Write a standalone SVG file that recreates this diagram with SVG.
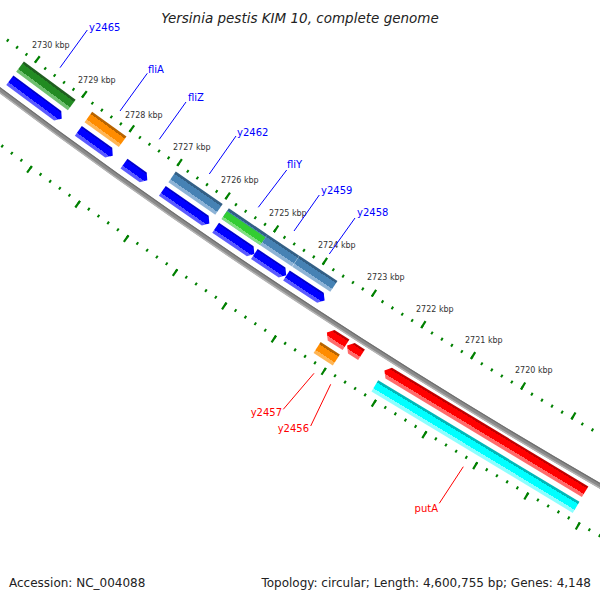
<svg xmlns="http://www.w3.org/2000/svg" width="600" height="600" viewBox="0 0 600 600">
<style>
.kbp{font-family:"DejaVu Sans",sans-serif;font-size:8px;fill:#333}
.lb{font-family:"DejaVu Sans",sans-serif;font-size:10px;fill:#0000ff}
.lr{font-family:"DejaVu Sans",sans-serif;font-size:10px;fill:#ff0000;text-anchor:end}
.info{font-family:"DejaVu Sans",sans-serif;font-size:12px;fill:#222}
.cb{stroke:#0000ff;stroke-width:1;fill:none}
.cr{stroke:#ff0000;stroke-width:1;fill:none}
.tick{fill:none;stroke:#008000}
.bb{fill:none}
.blue{fill:url(#gBlue)}
.red{fill:url(#gRed)}
.green{fill:url(#gGreen)}
.orange{fill:url(#gOrange)}
.steel{fill:url(#gSteel)}
.lime{fill:url(#gLime)}
.cyan{fill:url(#gCyan)}
</style>
<defs>
<linearGradient id="gBlue" x1="0" y1="0" x2="0" y2="1"><stop offset="0" stop-color="#0000cc"/><stop offset="0.15" stop-color="#0000cc"/><stop offset="0.15" stop-color="#0000ff"/><stop offset="0.7" stop-color="#0000ff"/><stop offset="0.7" stop-color="#5a5aff"/><stop offset="1" stop-color="#5a5aff"/></linearGradient>
<linearGradient id="gRed" x1="0" y1="0" x2="0" y2="1"><stop offset="0" stop-color="#c00000"/><stop offset="0.18" stop-color="#c00000"/><stop offset="0.18" stop-color="#ff0000"/><stop offset="0.7" stop-color="#ff0000"/><stop offset="0.7" stop-color="#ff6b6b"/><stop offset="1" stop-color="#ff6b6b"/></linearGradient>
<linearGradient id="gGreen" x1="0" y1="0" x2="0" y2="1"><stop offset="0" stop-color="#1f5f1f"/><stop offset="0.2" stop-color="#1f5f1f"/><stop offset="0.2" stop-color="#228b22"/><stop offset="0.72" stop-color="#228b22"/><stop offset="0.72" stop-color="#6fbf6f"/><stop offset="1" stop-color="#6fbf6f"/></linearGradient>
<linearGradient id="gOrange" x1="0" y1="0" x2="0" y2="1"><stop offset="0" stop-color="#b86400"/><stop offset="0.2" stop-color="#b86400"/><stop offset="0.2" stop-color="#ff8c00"/><stop offset="0.72" stop-color="#ff8c00"/><stop offset="0.72" stop-color="#ffb554"/><stop offset="1" stop-color="#ffb554"/></linearGradient>
<linearGradient id="gSteel" x1="0" y1="0" x2="0" y2="1"><stop offset="0" stop-color="#335f85"/><stop offset="0.2" stop-color="#335f85"/><stop offset="0.2" stop-color="#4682b4"/><stop offset="0.72" stop-color="#4682b4"/><stop offset="0.72" stop-color="#8db3d6"/><stop offset="1" stop-color="#8db3d6"/></linearGradient>
<linearGradient id="gLime" x1="0" y1="0" x2="0" y2="1"><stop offset="0" stop-color="#32cd32"/><stop offset="0.7" stop-color="#32cd32"/><stop offset="0.7" stop-color="#7fe07f"/><stop offset="1" stop-color="#7fe07f"/></linearGradient>
<linearGradient id="gCyan" x1="0" y1="0" x2="0" y2="1"><stop offset="0" stop-color="#00b8b8"/><stop offset="0.2" stop-color="#00b8b8"/><stop offset="0.2" stop-color="#00ffff"/><stop offset="0.72" stop-color="#00ffff"/><stop offset="0.72" stop-color="#8cffff"/><stop offset="1" stop-color="#8cffff"/></linearGradient>
</defs>
<rect width="600" height="600" fill="#ffffff"/>
<text x="300" y="23" text-anchor="middle" font-family="DejaVu Sans, sans-serif" font-size="13.5" font-style="italic" fill="#222">Yersinia pestis KIM 10, complete genome</text>

<g id="ruler" transform="translate(3531 -4614)">
<circle class="bb" r="5882" stroke="#8a8a8a" stroke-width="5"/>
<circle class="bb" r="5880" stroke="#6f6f6f" stroke-width="1.2"/>
<circle class="bb" r="5884" stroke="#b4b4b4" stroke-width="1.5"/>
<path class="tick" d="M-2805.97 5118.85 A5837.5 5837.5 0 0 1 -3588.31 4604.39" stroke-width="3" stroke-dasharray="2 9.7166" stroke-dashoffset="1"/>
<path class="tick" d="M-2804.77 5116.65 A5835 5835 0 0 1 -3586.77 4602.41" stroke-width="8" stroke-dasharray="2.2 56.358" stroke-dashoffset="1.1"/>
<path class="tick" d="M-2848.27 5196.02 A5925.5 5925.5 0 0 1 -3642.41 4673.80" stroke-width="3" stroke-dasharray="2 9.8932" stroke-dashoffset="1"/>
<path class="tick" d="M-2849.47 5198.20 A5928 5928 0 0 1 -3643.94 4675.77" stroke-width="8" stroke-dasharray="2.2 57.2913" stroke-dashoffset="1.1"/>
</g>

<g id="ruler-labels">
<text class="kbp" x="32" y="48">2730 kbp</text>
<text class="kbp" x="78" y="83">2729 kbp</text>
<text class="kbp" x="125" y="117.5">2728 kbp</text>
<text class="kbp" x="173" y="150">2727 kbp</text>
<text class="kbp" x="221" y="183">2726 kbp</text>
<text class="kbp" x="269" y="216">2725 kbp</text>
<text class="kbp" x="318" y="248">2724 kbp</text>
<text class="kbp" x="367" y="280">2723 kbp</text>
<text class="kbp" x="416" y="311.5">2722 kbp</text>
<text class="kbp" x="465" y="342.5">2721 kbp</text>
<text class="kbp" x="515" y="372.5">2720 kbp</text>
</g>

<g id="y2465">
<g transform="translate(3531 -4614) rotate(36.5585)">
<rect class="green" x="-32.21" y="5844.5" width="64.42" height="13"/>
<polygon class="blue" points="-32.30,5862 27.30,5862 32.30,5868 27.30,5874 -32.30,5874"/>
</g>
<text class="lb" x="89" y="30.5">y2465</text>
</g>

<g id="fliA">
<g transform="translate(3531 -4614) rotate(35.8352)">
<rect class="orange" x="-21.18" y="5844.5" width="42.36" height="13"/>
<polygon class="blue" points="-21.24,5862 16.24,5862 21.24,5868 16.24,5874 -21.24,5874"/>
</g>
<text class="lb" x="148" y="73">fliA</text>
</g>

<g id="fliZ">
<g transform="translate(3531 -4614) rotate(35.3536)">
<polygon class="blue" points="-14.29,5862 9.29,5862 14.29,5868 9.29,5874 -14.29,5874"/>
</g>
<text class="lb" x="188" y="100.5">fliZ</text>
</g>

<g id="y2462">
<g transform="translate(3531 -4614) rotate(34.7549)">
<rect class="steel" x="-28.52" y="5844.5" width="57.04" height="13"/>
<polygon class="blue" points="-28.61,5862 23.61,5862 28.61,5868 23.61,5874 -28.61,5874"/>
</g>
<text class="lb" x="237" y="135.5">y2462</text>
</g>

<g id="fliY">
<g transform="translate(3531 -4614) rotate(34.1730)">
<rect class="steel" x="-23.35" y="5844.5" width="46.70" height="13"/>
<rect class="lime" x="-23.35" y="5848" width="46.70" height="9.5"/>
<polygon class="blue" points="-23.41,5862 18.41,5862 23.41,5868 18.41,5874 -23.41,5874"/>
</g>
<text class="lb" x="287" y="168">fliY</text>
</g>

<g id="y2459">
<g transform="translate(3531 -4614) rotate(33.7574)">
<rect class="steel" x="-19.10" y="5844.5" width="38.20" height="13"/>
<polygon class="blue" points="-19.16,5862 14.16,5862 19.16,5868 14.16,5874 -19.16,5874"/>
</g>
<text class="lb" x="321" y="193.5">y2459</text>
</g>

<g id="y2458">
<g transform="translate(3531 -4614) rotate(33.3445)">
<rect class="steel" x="-22.76" y="5844.5" width="45.52" height="13"/>
<polygon class="blue" points="-22.83,5862 17.83,5862 22.83,5868 17.83,5874 -22.83,5874"/>
</g>
<text class="lb" x="357" y="216">y2458</text>
</g>

<g id="y2457">
<g transform="translate(3531 -4614) rotate(32.8229)">
<rect class="orange" x="-11.44" y="5905" width="22.88" height="13"/>
<polygon class="red" points="-11.40,5893.5 -6.40,5887.25 11.40,5887.25 11.40,5899.75 -6.40,5899.75"/>
</g>
<text class="lr" x="282" y="416">y2457</text>
</g>

<g id="y2456">
<g transform="translate(3531 -4614) rotate(32.6166)">
<polygon class="red" points="-8.52,5893.5 -3.52,5887.25 8.52,5887.25 8.52,5899.75 -3.52,5899.75"/>
</g>
<text class="lr" x="309" y="432">y2456</text>
</g>

<g id="putA">
<g transform="translate(3531 -4614) rotate(31.1232)">
<rect class="cyan" x="-117.58" y="5905" width="235.16" height="13"/>
<polygon class="red" points="-117.22,5893.5 -112.22,5887.25 117.22,5887.25 117.22,5899.75 -112.22,5899.75"/>
</g>
<text class="lr" x="438" y="512">putA</text>
</g>

<g id="connectors">
<line class="cb" x1="87.3" y1="30" x2="60" y2="67.7"/>
<line class="cb" x1="147.3" y1="73.3" x2="120" y2="111"/>
<line class="cb" x1="186" y1="102" x2="159.3" y2="139.3"/>
<line class="cb" x1="236" y1="136" x2="209.3" y2="174"/>
<line class="cb" x1="286.7" y1="170" x2="258.3" y2="207.3"/>
<line class="cb" x1="319.3" y1="195" x2="294" y2="231"/>
<line class="cb" x1="355" y1="218" x2="329.3" y2="254"/>
<line class="cr" x1="283.3" y1="409.3" x2="314" y2="373.3"/>
<line class="cr" x1="310.7" y1="426" x2="330.7" y2="384.3"/>
<line class="cr" x1="439.3" y1="503.3" x2="463.3" y2="466.7"/>
</g>

<text class="info" x="9" y="587">Accession: NC_004088</text>
<text class="info" x="591" y="587" text-anchor="end">Topology: circular; Length: 4,600,755 bp; Genes: 4,148</text>
</svg>
